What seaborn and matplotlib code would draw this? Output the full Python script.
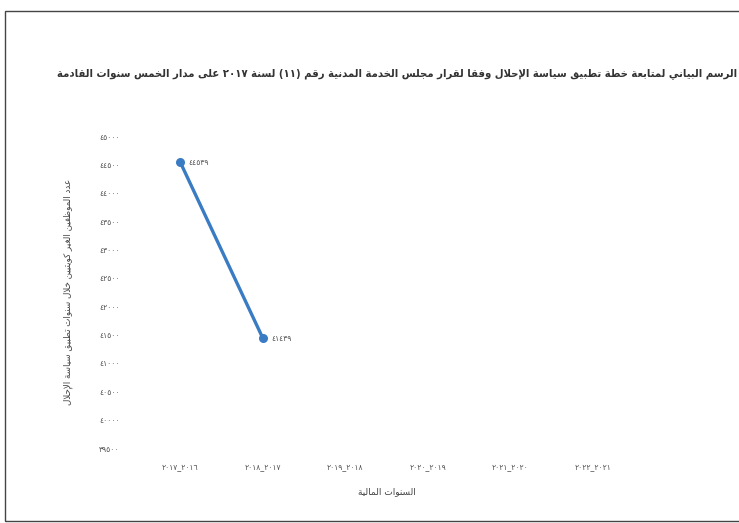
import re
import numpy as np
import pandas as pd
import matplotlib
matplotlib.use("Agg")
import matplotlib.pyplot as plt
from matplotlib.patches import Rectangle
import seaborn as sns

# ---------------- data ----------------
categories = ["٢٠١٧_٢٠١٦", "٢٠١٨_٢٠١٧", "٢٠١٩_٢٠١٨", "٢٠٢٠_٢٠١٩", "٢٠٢١_٢٠٢٠", "٢٠٢٢_٢٠٢١"]
values = [44539, 41439]          # only the first two years have values
value_labels = ["٤٤٥٣٩", "٤١٤٣٩"]
y_ticks = [39500, 40000, 40500, 41000, 41500, 42000, 42500, 43000, 43500, 44000, 44500, 45000]
y_tick_labels = ["٣٩٥٠٠", "٤٠٠٠٠", "٤٠٥٠٠", "٤١٠٠٠", "٤١٥٠٠", "٤٢٠٠٠",
                 "٤٢٥٠٠", "٤٣٠٠٠", "٤٣٥٠٠", "٤٤٠٠٠", "٤٤٥٠٠", "٤٥٠٠٠"]
title_text = "الرسم البياني لمتابعة خطة تطبيق سياسة الإحلال وفقا لقرار مجلس الخدمة المدنية رقم (١١) لسنة ٢٠١٧ على مدار الخمس سنوات القادمة"
x_title = "السنوات المالية"
y_title = "عدد الموظفين الغير كويتيين خلال سنوات تطبيق سياسة الإحلال"

# ---------------- minimal Arabic shaping (presentation forms) ----------------
_F = {
    'ء': ('\uFE80',), 'آ': ('\uFE81', '\uFE82'), 'أ': ('\uFE83', '\uFE84'), 'ؤ': ('\uFE85', '\uFE86'),
    'إ': ('\uFE87', '\uFE88'), 'ئ': ('\uFE89', '\uFE8A', '\uFE8B', '\uFE8C'), 'ا': ('\uFE8D', '\uFE8E'),
    'ب': ('\uFE8F', '\uFE90', '\uFE91', '\uFE92'), 'ة': ('\uFE93', '\uFE94'),
    'ت': ('\uFE95', '\uFE96', '\uFE97', '\uFE98'), 'ث': ('\uFE99', '\uFE9A', '\uFE9B', '\uFE9C'),
    'ج': ('\uFE9D', '\uFE9E', '\uFE9F', '\uFEA0'), 'ح': ('\uFEA1', '\uFEA2', '\uFEA3', '\uFEA4'),
    'خ': ('\uFEA5', '\uFEA6', '\uFEA7', '\uFEA8'), 'د': ('\uFEA9', '\uFEAA'), 'ذ': ('\uFEAB', '\uFEAC'),
    'ر': ('\uFEAD', '\uFEAE'), 'ز': ('\uFEAF', '\uFEB0'),
    'س': ('\uFEB1', '\uFEB2', '\uFEB3', '\uFEB4'), 'ش': ('\uFEB5', '\uFEB6', '\uFEB7', '\uFEB8'),
    'ص': ('\uFEB9', '\uFEBA', '\uFEBB', '\uFEBC'), 'ض': ('\uFEBD', '\uFEBE', '\uFEBF', '\uFEC0'),
    'ط': ('\uFEC1', '\uFEC2', '\uFEC3', '\uFEC4'), 'ظ': ('\uFEC5', '\uFEC6', '\uFEC7', '\uFEC8'),
    'ع': ('\uFEC9', '\uFECA', '\uFECB', '\uFECC'), 'غ': ('\uFECD', '\uFECE', '\uFECF', '\uFED0'),
    'ف': ('\uFED1', '\uFED2', '\uFED3', '\uFED4'), 'ق': ('\uFED5', '\uFED6', '\uFED7', '\uFED8'),
    'ك': ('\uFED9', '\uFEDA', '\uFEDB', '\uFEDC'), 'ل': ('\uFEDD', '\uFEDE', '\uFEDF', '\uFEE0'),
    'م': ('\uFEE1', '\uFEE2', '\uFEE3', '\uFEE4'), 'ن': ('\uFEE5', '\uFEE6', '\uFEE7', '\uFEE8'),
    'ه': ('\uFEE9', '\uFEEA', '\uFEEB', '\uFEEC'), 'و': ('\uFEED', '\uFEEE'), 'ى': ('\uFEEF', '\uFEF0'),
    'ي': ('\uFEF1', '\uFEF2', '\uFEF3', '\uFEF4'),
}
_LAMALEF = {'آ': ('\uFEF5', '\uFEF6'), 'أ': ('\uFEF7', '\uFEF8'),
            'إ': ('\uFEF9', '\uFEFA'), 'ا': ('\uFEFB', '\uFEFC')}


def shape_ar(s):
    out = []
    prev_joins = False
    i = 0
    n = len(s)
    while i < n:
        c = s[i]
        nxt = s[i + 1] if i + 1 < n else ''
        if c == 'ل' and nxt in _LAMALEF:
            out.append(_LAMALEF[nxt][1 if prev_joins else 0])
            prev_joins = False
            i += 2
            continue
        if c in _F:
            forms = _F[c]
            dual = len(forms) == 4
            joins_next = dual and nxt in _F
            if prev_joins and joins_next:
                out.append(forms[3])
            elif prev_joins and len(forms) > 1:
                out.append(forms[1])
            elif joins_next:
                out.append(forms[2])
            else:
                out.append(forms[0])
            prev_joins = joins_next
        else:
            out.append(c)
            prev_joins = False
        i += 1
    shaped = ''.join(out)
    toks = re.findall(r'[0-9\u0660-\u0669]+|.', shaped, re.S)
    mirror = {'(': ')', ')': '('}
    return ''.join(mirror.get(t, t) for t in reversed(toks))


# ---------------- plot ----------------
sns.set_theme(style="white")
plt.rcParams['font.family'] = ['DejaVu Sans']

fig = plt.figure(figsize=(7.39, 5.23), dpi=100)
fig.patch.set_facecolor('white')
W, H = 739, 523
ax = fig.add_axes([139 / W, 1 - 448 / H, (634 - 139) / W, (448 - 136) / H])
ax.set_facecolor('none')

df = pd.DataFrame({"pos": np.arange(len(values)), "value": values})
sns.lineplot(data=df, x="pos", y="value", ax=ax, color="#3a7cc3", linewidth=2.4,
             marker="o", markersize=6.5, markeredgewidth=0, legend=False)

for xi, (v, lab) in enumerate(zip(values, value_labels)):
    ax.annotate(lab, (xi, v), xytext=(6, 0), textcoords="offset points",
                ha="left", va="center", fontsize=5.5, color="#555555")

ax.set_xlim(-0.5, len(categories) - 0.5)
ax.set_ylim(y_ticks[0], y_ticks[-1])
ax.set_xticks(range(len(categories)))
ax.set_xticklabels(categories, fontsize=5.5, color="#555555")
ax.set_yticks(y_ticks)
ax.set_yticklabels(y_tick_labels, fontsize=5.5, color="#555555")
ax.tick_params(axis="x", length=0, pad=10)
ax.tick_params(axis="y", length=0, pad=14)
for sp in ax.spines.values():
    sp.set_visible(False)
ax.grid(False)

ax.set_xlabel(shape_ar(x_title), fontsize=6.5, color="#444444", labelpad=12)
ax.set_ylabel(shape_ar(y_title), fontsize=6.3, color="#444444", labelpad=19)

fig.text(397 / W, 1 - 74 / H, shape_ar(title_text), ha="center", va="center",
         fontsize=8.1, fontweight="bold", color="#333333", fontstretch="condensed")

fig.patches.append(Rectangle((5 / W, 2 / H), 1.2, 1 - 13 / H, transform=fig.transFigure,
                             fill=False, edgecolor="#444444", linewidth=1.0))

fig.savefig("out.png", dpi=100, facecolor=fig.get_facecolor())
